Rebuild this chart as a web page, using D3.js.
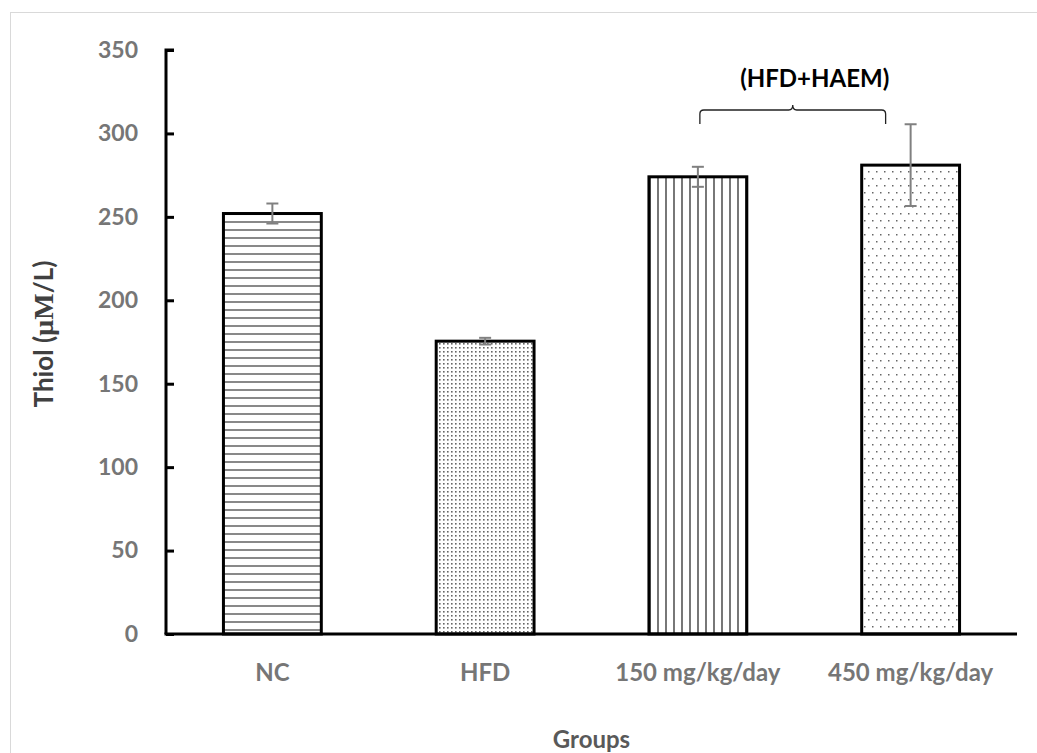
<!DOCTYPE html>
<html>
<head>
<meta charset="utf-8">
<script src="https://cdn.jsdelivr.net/npm/d3@7"></script>
<style>
  body { margin: 0; background: #fff; }
  text { font-family: Lato, "Open Sans", sans-serif; }
</style>
</head>
<body>
<div class="chart"></div>
<script>
var groups = ["NC", "HFD", "150 mg/kg/day", "450 mg/kg/day"];
var thiol = [252, 175.5, 274, 281];
var errors = [6, 2, 6, 24.5];
var yTicks = [0, 50, 100, 150, 200, 250, 300, 350];
var patterns = ["hlines", "densedots", "vlines", "sparsedots"];

var svgWidth = 1037;
var svgHeight = 753;
var margin = { top: 50, right: 20, bottom: 119, left: 166 };
var width = 1017 - margin.left;
var height = svgHeight - margin.top - margin.bottom;

var svg = d3.select(".chart")
  .append("svg")
  .attr("width", svgWidth)
  .attr("height", svgHeight);

// light frame round the chart
svg.append("rect")
  .attr("x", 10.5).attr("y", 12.5)
  .attr("width", 1040).attr("height", 760)
  .attr("fill", "none")
  .attr("stroke", "#d9d9d9");

// fill patterns
var defs = svg.append("defs");

var p1 = defs.append("pattern").attr("id", "hlines")
  .attr("patternUnits", "userSpaceOnUse").attr("width", 8).attr("height", 8);
p1.append("line").attr("x1", 0).attr("x2", 8).attr("y1", 4).attr("y2", 4)
  .attr("stroke", "#555").attr("stroke-width", 1.4);

var p2 = defs.append("pattern").attr("id", "densedots")
  .attr("patternUnits", "userSpaceOnUse").attr("width", 4).attr("height", 4);
p2.append("rect").attr("x", 1).attr("y", 1).attr("width", 1.6).attr("height", 1.6)
  .attr("fill", "#666");

var p3 = defs.append("pattern").attr("id", "vlines")
  .attr("patternUnits", "userSpaceOnUse").attr("width", 8).attr("height", 8);
p3.append("line").attr("y1", 0).attr("y2", 8).attr("x1", 4).attr("x2", 4)
  .attr("stroke", "#555").attr("stroke-width", 1.6);

var p4 = defs.append("pattern").attr("id", "sparsedots")
  .attr("patternUnits", "userSpaceOnUse").attr("width", 8).attr("height", 14);
p4.append("rect").attr("x", 2).attr("y", 2).attr("width", 1.5).attr("height", 1.5).attr("fill", "#666");
p4.append("rect").attr("x", 6).attr("y", 9).attr("width", 1.5).attr("height", 1.5).attr("fill", "#666");

var chartGroup = svg.append("g")
  .attr("transform", `translate(${margin.left}, ${margin.top})`);

var xBandScale = d3.scaleBand()
  .domain(groups)
  .range([0, width])
  .paddingInner(0.54)
  .paddingOuter(0.27);

var yLinearScale = d3.scaleLinear()
  .domain([0, 350])
  .range([height, 0]);

// bars
chartGroup.selectAll(".bar")
  .data(groups)
  .enter()
  .append("rect")
  .attr("class", "bar")
  .attr("x", d => xBandScale(d))
  .attr("y", (d, i) => yLinearScale(thiol[i]))
  .attr("width", xBandScale.bandwidth())
  .attr("height", (d, i) => height - yLinearScale(thiol[i]))
  .attr("fill", (d, i) => `url(#${patterns[i]})`)
  .attr("stroke", "#000")
  .attr("stroke-width", 3);

// error bars
var cap = 6;
groups.forEach(function (g, i) {
  var cx = xBandScale(g) + xBandScale.bandwidth() / 2;
  var top = yLinearScale(thiol[i] + errors[i]);
  var bot = yLinearScale(thiol[i] - errors[i]);
  var eg = chartGroup.append("g").attr("stroke", "#808080").attr("stroke-width", 2);
  eg.append("line").attr("x1", cx).attr("x2", cx).attr("y1", top).attr("y2", bot);
  eg.append("line").attr("x1", cx - cap).attr("x2", cx + cap).attr("y1", top).attr("y2", top);
  eg.append("line").attr("x1", cx - cap).attr("x2", cx + cap).attr("y1", bot).attr("y2", bot);
});

// axes
var leftAxis = d3.axisRight(yLinearScale).tickValues(yTicks).tickSize(8).tickFormat(d3.format("d"));
var yAxisG = chartGroup.append("g").call(leftAxis);
yAxisG.select(".domain").attr("stroke-width", 3).attr("d", `M8,0H0V${height}`);
yAxisG.selectAll(".tick line").attr("stroke-width", 3);
yAxisG.selectAll(".tick text")
  .attr("x", -28)
  .attr("text-anchor", "end")
  .attr("fill", "#767676")
  .attr("font-size", 23)
  .attr("font-weight", "bold");

chartGroup.append("line")
  .attr("x1", -1.5).attr("x2", width)
  .attr("y1", height).attr("y2", height)
  .attr("stroke", "#000").attr("stroke-width", 3);

chartGroup.selectAll(".xlab")
  .data(groups)
  .enter()
  .append("text")
  .attr("class", "xlab")
  .attr("x", d => xBandScale(d) + xBandScale.bandwidth() / 2)
  .attr("y", height + 47)
  .attr("text-anchor", "middle")
  .attr("fill", "#767676")
  .attr("font-size", 24)
  .attr("font-weight", "bold")
  .text(d => d);

// axis titles
chartGroup.append("text")
  .attr("x", width / 2)
  .attr("y", height + 114)
  .attr("text-anchor", "middle")
  .attr("fill", "#595959")
  .attr("font-size", 24)
  .attr("font-weight", "bold")
  .text("Groups");

var yTitle = chartGroup.append("text")
  .attr("transform", `translate(${-113}, ${height / 2 - 8}) rotate(-90)`)
  .attr("text-anchor", "middle")
  .attr("fill", "#404040")
  .attr("font-size", 26)
  .attr("font-weight", "bold");
yTitle.append("tspan").text("Thiol  (");
yTitle.append("tspan").attr("font-family", "'Liberation Serif', serif").attr("font-size", 28).text("µM");
yTitle.append("tspan").text("/L)");

// bracket over the treated groups
var bx1 = xBandScale(groups[2]) + xBandScale.bandwidth() / 2 + 2;
var bx2 = xBandScale(groups[3]) + xBandScale.bandwidth() / 2 - 25;
var bm = (bx1 + bx2) / 2;
var by = 60;
chartGroup.append("path")
  .attr("d", `M${bx1},${by + 14} V${by + 4} Q${bx1},${by} ${bx1 + 4},${by} H${bm - 4} Q${bm},${by} ${bm},${by - 5} Q${bm},${by} ${bm + 4},${by} H${bx2 - 4} Q${bx2},${by} ${bx2},${by + 4} V${by + 14}`)
  .attr("fill", "none")
  .attr("stroke", "#222")
  .attr("stroke-width", 1.3);

chartGroup.append("text")
  .attr("x", bm + 22)
  .attr("y", 37)
  .attr("text-anchor", "middle")
  .attr("fill", "#000")
  .attr("font-size", 24)
  .attr("font-weight", "bold")
  .text("(HFD+HAEM)");
</script>
</body>
</html>
